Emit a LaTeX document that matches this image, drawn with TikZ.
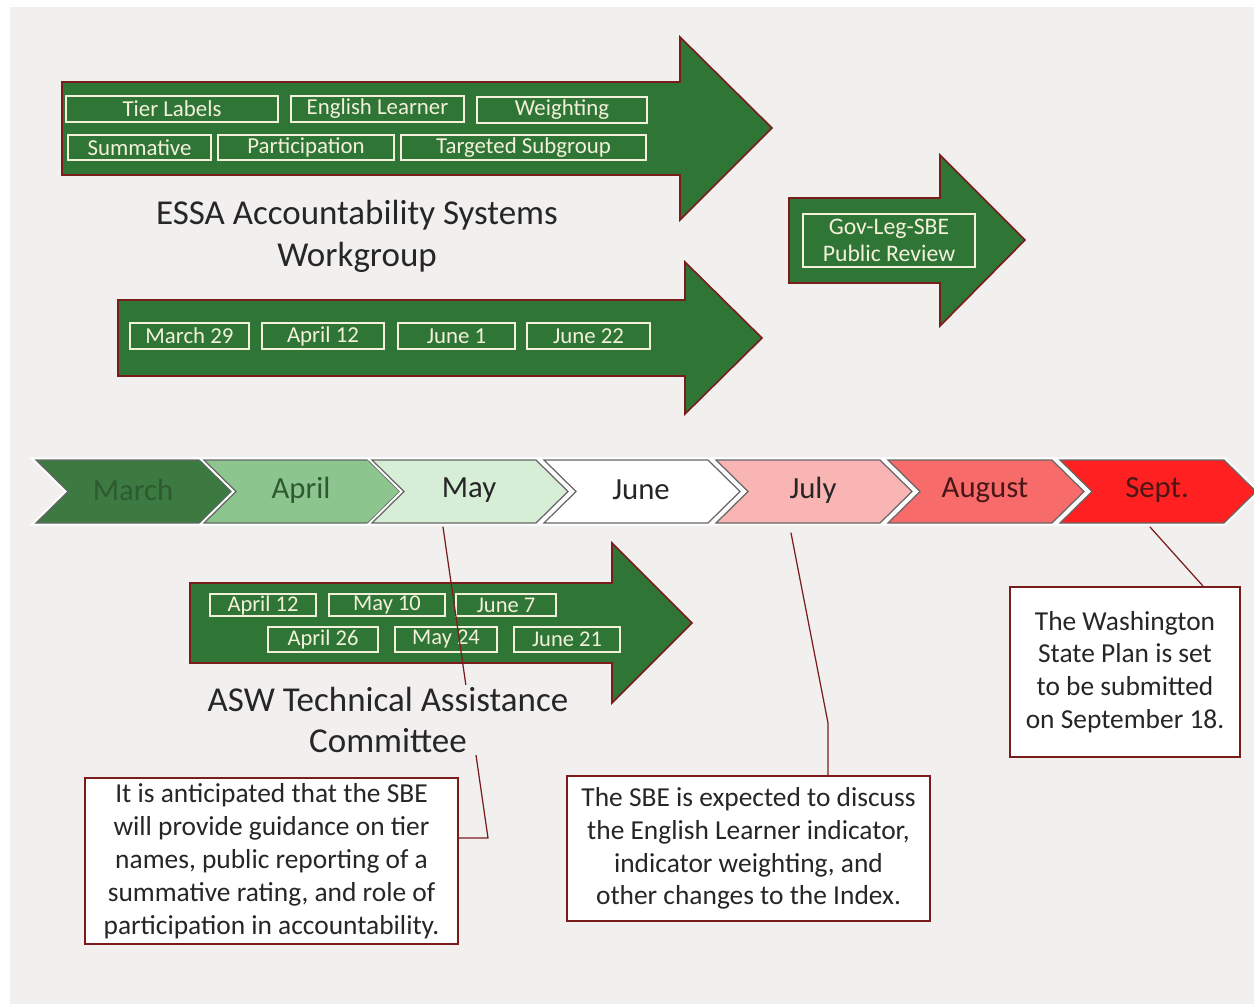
\documentclass[tikz,border=0pt]{standalone}
\usepackage{fontspec}
\setmainfont{Carlito}
\definecolor{PanelGray}{HTML}{F2EFEF}
\definecolor{ArrowGreen}{HTML}{2F7536}
\definecolor{EdgeRed}{HTML}{7A1C1C}
\definecolor{TagCream}{HTML}{F3F1DA}
\definecolor{InkGray}{HTML}{262626}
\definecolor{MarchFill}{HTML}{3C7A42}
\definecolor{AprilFill}{HTML}{8DC58F}
\definecolor{MayFill}{HTML}{D6EDD6}
\definecolor{JuneFill}{HTML}{FFFFFF}
\definecolor{JulyFill}{HTML}{F9B4B4}
\definecolor{AugustFill}{HTML}{F76B6B}
\definecolor{SeptFill}{HTML}{FF2121}
\definecolor{MarchInk}{HTML}{2E5A30}
\definecolor{SeptInk}{HTML}{4A1616}
\tikzset{
  blockarrow/.style={fill=ArrowGreen,draw=EdgeRed,line width=0.9pt,line join=miter},
  tagbox/.style={draw=TagCream,line width=0.9pt,text=TagCream,inner sep=0pt,
    font=\fontsize{13}{14}\selectfont},
  notebox/.style={draw=EdgeRed,line width=1.1pt,fill=white,text=InkGray,align=center,
    font=\fontsize{15.6}{18.7}\selectfont},
  grouptitle/.style={fill=PanelGray,text=InkGray,align=center,inner sep=1pt,
    font=\fontsize{19.9}{23.8}\selectfont},
  leader/.style={draw=EdgeRed,line width=0.7pt},
  chev/.style={draw=black!60,line width=0.7pt,line join=miter,
    preaction={draw=white,line width=3pt}}
}

\begin{document}
\begin{tikzpicture}[x=0.02cm,y=-0.02cm,line cap=round]
  \useasboundingbox (0,0) rectangle (1254,1004);
  \fill[PanelGray] (10,7) rectangle (1254,1004);

  % workgroup arrows
  \draw[blockarrow] (62,82) -- (680,82) -- (680,37) -- (772,128) -- (680,220) -- (680,175) -- (62,175) -- cycle;
  \draw[blockarrow] (118,300) -- (685,300) -- (685,262) -- (762,338) -- (685,414) -- (685,376) -- (118,376) -- cycle;
  \draw[blockarrow] (789,198) -- (940,198) -- (940,155) -- (1025,240) -- (940,326) -- (940,283) -- (789,283) -- cycle;
  \draw[blockarrow] (190,583) -- (612,583) -- (612,543) -- (692,623) -- (612,703) -- (612,663) -- (190,663) -- cycle;

  \node[tagbox,minimum width=4.24cm,minimum height=0.52cm] (tier) at (172,109) {Tier Labels};
  \node[tagbox,minimum width=3.46cm,minimum height=0.52cm] (elearn) at (377.5,109) {English Learner};
  \node[tagbox,minimum width=3.40cm,minimum height=0.52cm] (weight) at (562,110) {Weighting};
  \node[tagbox,minimum width=2.86cm,minimum height=0.50cm] (summ) at (139.5,147.5) {Summative};
  \node[tagbox,minimum width=3.52cm,minimum height=0.50cm] (partic) at (306,147.5) {Participation};
  \node[tagbox,minimum width=4.90cm,minimum height=0.50cm] (target) at (523.5,147.5) {Targeted Subgroup};

  \node[tagbox,minimum width=2.38cm,minimum height=0.52cm] (wg1) at (189.5,336) {March 29};
  \node[tagbox,minimum width=2.44cm,minimum height=0.52cm] (wg2) at (323,336) {April 12};
  \node[tagbox,minimum width=2.34cm,minimum height=0.52cm] (wg3) at (456.5,336) {June 1};
  \node[tagbox,minimum width=2.46cm,minimum height=0.52cm] (wg4) at (588.5,336) {June 22};

  \node[tagbox,align=center,minimum width=3.44cm,minimum height=1.06cm,
    font=\fontsize{13.5}{15.3}\selectfont] (review) at (889,240.5) {Gov-Leg-SBE\\Public Review};

  \node[tagbox,minimum width=2.12cm,minimum height=0.44cm,font=\fontsize{12.8}{14}\selectfont] (ta1) at (263,605) {April 12};
  \node[tagbox,minimum width=2.32cm,minimum height=0.44cm,font=\fontsize{12.8}{14}\selectfont] (ta2) at (387,605) {May 10};
  \node[tagbox,minimum width=2.00cm,minimum height=0.44cm,font=\fontsize{12.8}{14}\selectfont] (ta3) at (506,605) {June 7};
  \node[tagbox,minimum width=2.20cm,minimum height=0.50cm,font=\fontsize{12.8}{14}\selectfont] (ta4) at (323,639.5) {April 26};
  \node[tagbox,minimum width=2.04cm,minimum height=0.50cm,font=\fontsize{12.8}{14}\selectfont] (ta5) at (446,639.5) {May 24};
  \node[tagbox,minimum width=2.12cm,minimum height=0.50cm,font=\fontsize{12.8}{14}\selectfont] (ta6) at (567,639.5) {June 21};

  % month chevrons
  \foreach \s/\mon/\fc/\tc [count=\i] in {36/March/MarchFill/MarchInk,204/April/AprilFill/MarchInk,
      372/May/MayFill/InkGray,544/June/JuneFill/InkGray,716/July/JulyFill/InkGray,
      888/August/AugustFill/SeptInk,1060/Sept./SeptFill/SeptInk}{
    \filldraw[chev,fill=\fc] (\s,460) -- ++(164,0) -- ++(32,31.5) -- ++(-32,31.5) -- ++(-164,0) -- ++(32,-31.5) -- cycle;
    \node[text=\tc,font=\fontsize{17.5}{20}\selectfont] (mon\i) at ({\s+97},490) {\mon};
  }

  % leaders
  \coordinate (may-foot) at (443,527);
  \coordinate (may-bend) at (488,838);
  \coordinate (jul-foot) at (791,533);
  \coordinate (jul-bend) at (828,723);
  \coordinate (sep-foot) at (1150,527);

  \node[notebox,minimum width=7.46cm,minimum height=3.32cm] (note1) at (271.5,861)
    {It is anticipated that the SBE\\will provide guidance on tier\\names, public reporting of a\\summative rating, and role of\\participation in accountability.};
  \node[notebox,minimum width=7.26cm,minimum height=2.90cm] (note2) at (748.5,848.5)
    {The SBE is expected to discuss\\the English Learner indicator,\\indicator weighting, and\\other changes to the Index.};
  \node[notebox,minimum width=4.60cm,minimum height=3.40cm] (note3) at (1125,672)
    {The Washington\\State Plan is set\\to be submitted\\on September 18.};

  \draw[leader] (may-foot) -- (may-bend) -- (may-bend -| note1.east);
  \draw[leader] (jul-foot) -- (jul-bend) -- (jul-bend |- note2.north);
  \draw[leader] (sep-foot) -- ([xshift=1.56cm]note3.north);

  \node[grouptitle] (essa) at (357,236) {ESSA Accountability Systems\\Workgroup};
  \node[grouptitle] (asw) at (388,720) {ASW Technical Assistance\\Committee};
\end{tikzpicture}
\end{document}
